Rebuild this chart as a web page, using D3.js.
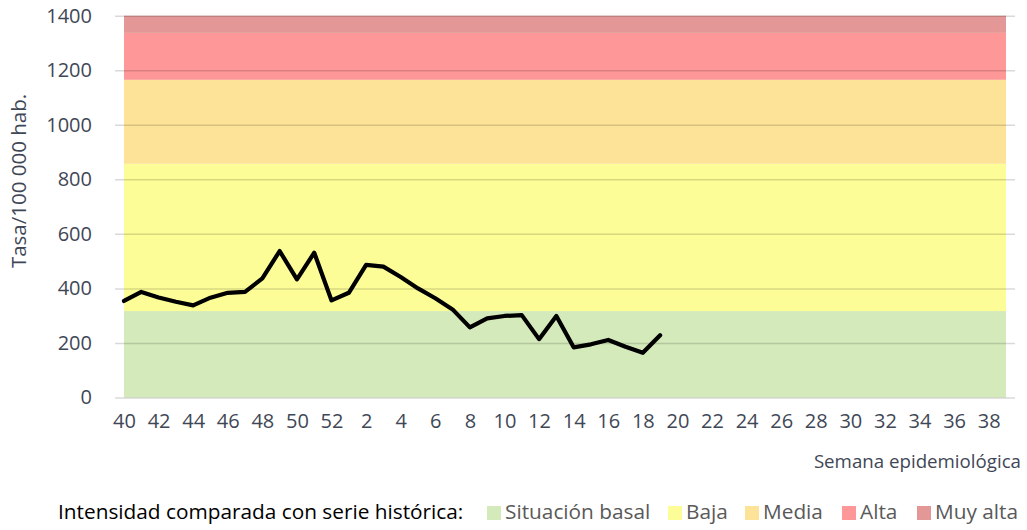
<!DOCTYPE html>
<html>
<head>
<meta charset="utf-8">
<script src="https://cdn.jsdelivr.net/npm/d3@7"></script>
<style>
  html, body { margin: 0; padding: 0; background: #fff; }
  svg { display: block; font-family: "Open Sans", sans-serif; }
</style>
</head>
<body>
<svg id="chart" width="1027" height="530"></svg>
<script>
// ---- data ----
const weeks = [40,41,42,43,44,45,46,47,48,49,50,51,52,
  1,2,3,4,5,6,7,8,9,10,11,12,13,14,15,16,17,18,19,20,21,22,23,24,25,26,27,28,29,30,31,32,33,34,35,36,37,38,39];
const rates = [354,387,367,351,338,366,384,387,437,537,433,531,356,
  384,486,480,442,400,364,323,257,290,299,302,214,299,184,195,211,186,164,228,
  null,null,null,null,null,null,null,null,null,null,null,null,null,null,null,null,null,null,null,null];
const tickWeeks = [40,42,44,46,48,50,52,2,4,6,8,10,12,14,16,18,20,22,24,26,28,30,32,34,36,38];
const yTicks = [0,200,400,600,800,1000,1200,1400];
const bandNames = ["Situación basal","Baja","Media","Alta","Muy alta"];
const bandLower = [0,317,857,1165,1337];
const bandUpper = [317,857,1165,1337,1400];
const bandColors = ["#D4EABA","#FDFD97","#FDE398","#FE9797","#E39797"];

// ---- layout ----
const svg = d3.select("#chart");
const x = d3.scalePoint().domain(weeks).range([124, 1006]);
const y = d3.scaleLinear().domain([0, 1400]).range([397.5, 15.7]);
const tickColor = "#3F4756";

// bands
svg.append("g").selectAll("rect").data(bandNames).join("rect")
  .attr("x", x(weeks[0]))
  .attr("width", x(weeks[weeks.length-1]) - x(weeks[0]))
  .attr("y", (d,i) => y(bandUpper[i]))
  .attr("height", (d,i) => y(bandLower[i]) - y(bandUpper[i]))
  .attr("fill", (d,i) => bandColors[i]);

// y axis + gridlines
const yAxis = svg.append("g").attr("transform", "translate(115,0)")
  .call(d3.axisLeft(y).tickValues(yTicks).tickSize(-900).tickPadding(23).tickFormat(d3.format("d")));
yAxis.select(".domain").remove();
yAxis.selectAll(".tick line").attr("stroke", "#000").attr("stroke-opacity", 0.15).attr("stroke-width", 1.5);
yAxis.selectAll(".tick text").attr("fill", tickColor).style("font-size", "20px")
  .style("font-family", "'Open Sans', sans-serif");

// x axis
const xAxis = svg.append("g").attr("transform", "translate(0,397.5)")
  .call(d3.axisBottom(x).tickValues(tickWeeks).tickSize(0).tickPadding(16));
xAxis.select(".domain").remove();
xAxis.selectAll(".tick text").attr("fill", tickColor).style("font-size", "20px")
  .style("font-family", "'Open Sans', sans-serif");

// line
const line = d3.line()
  .defined((d,i) => rates[i] !== null)
  .x((d,i) => x(weeks[i]))
  .y((d,i) => y(rates[i]));
svg.append("path").datum(rates)
  .attr("d", line)
  .attr("fill", "none")
  .attr("stroke", "#000")
  .attr("stroke-width", 4.2)
  .attr("stroke-linejoin", "round")
  .attr("stroke-linecap", "round");

// y title
svg.append("text")
  .attr("transform", "translate(26,181) rotate(-90)")
  .attr("text-anchor", "middle")
  .attr("fill", tickColor)
  .style("font-size", "20.5px")
  .text("Tasa/100 000 hab.");

// x title
svg.append("text")
  .attr("x", 1021).attr("y", 468)
  .attr("text-anchor", "end")
  .attr("fill", tickColor)
  .style("font-size", "18.7px")
  .text("Semana epidemiológica");

// legend
svg.append("text")
  .attr("x", 58).attr("y", 519)
  .attr("fill", "#000")
  .style("font-size", "20.8px")
  .text("Intensidad comparada con serie histórica:");

const legendX = [487, 668, 745, 842, 917];
const lg = svg.append("g").selectAll("g").data(bandNames).join("g")
  .attr("transform", (d,i) => `translate(${legendX[i]},506)`);
lg.append("rect").attr("width", 14).attr("height", 14).attr("fill", (d,i) => bandColors[i]);
lg.append("text").attr("x", 18).attr("y", 13)
  .attr("fill", "#595959")
  .style("font-size", "20.8px")
  .text(d => d);
</script>
</body>
</html>
